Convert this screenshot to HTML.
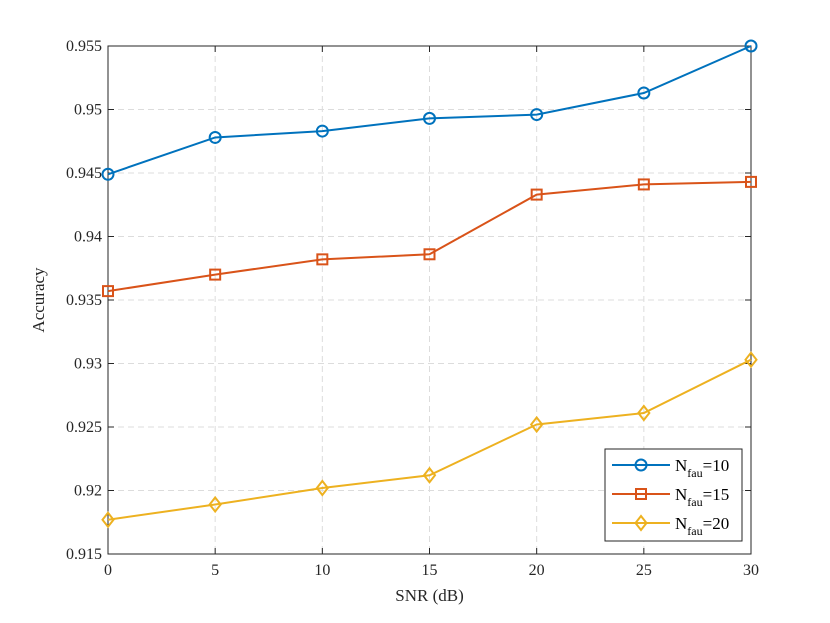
<!DOCTYPE html>
<html><head><meta charset="utf-8"><style>
html,body{margin:0;padding:0;background:#fff;}
svg{display:block;font-family:"Liberation Serif",serif;}
</style></head><body>
<svg id="chart" width="830" height="623" viewBox="0 0 830 623"></svg>
<script>
const categories=[0,5,10,15,20,25,30];
const seriesN10=[0.9449,0.9478,0.9483,0.9493,0.9496,0.9513,0.9550];
const seriesN15=[0.9357,0.9370,0.9382,0.9386,0.9433,0.9441,0.9443];
const seriesN20=[0.9177,0.9189,0.9202,0.9212,0.9252,0.9261,0.9303];
const xTicks=[0,5,10,15,20,25,30];
const yTicks=[0.915,0.92,0.925,0.93,0.935,0.94,0.945,0.95,0.955];
const yTickLabels=["0.915","0.92","0.925","0.93","0.935","0.94","0.945","0.95","0.955"];

const L=108,R=751,T=46,B=554;
const xs=v=>L+(v-0)/30*(R-L);
const ys=v=>B-(v-0.915)/0.04*(B-T);
const svg=document.getElementById('chart');
const NS='http://www.w3.org/2000/svg';
function mk(tag,attrs,parent){const e=document.createElementNS(NS,tag);for(const k in attrs)e.setAttribute(k,attrs[k]);(parent||svg).appendChild(e);return e;}

const bg=mk('rect',{x:L,y:T,width:R-L,height:B-T,fill:'#fff'});



xTicks.forEach((t,i)=>{
  const x=xs(t);
  if(i>0&&i<xTicks.length-1){const g=mk('line',{x1:x,x2:x,y1:T,y2:B,stroke:'#dcdcdc','stroke-dasharray':'6,4','stroke-width':1});
  }
  mk('line',{x1:x,x2:x,y1:B,y2:B-6,stroke:'#262626'});
  mk('line',{x1:x,x2:x,y1:T,y2:T+6,stroke:'#262626'});
  const tx=mk('text',{x:x,y:B+21,'text-anchor':'middle','font-size':16,fill:'#262626'});
  tx.textContent=t;
  
});
yTicks.forEach((t,i)=>{
  const y=ys(t);
  if(i>0&&i<yTicks.length-1){const g=mk('line',{x1:L,x2:R,y1:y,y2:y,stroke:'#dcdcdc','stroke-dasharray':'6,4','stroke-width':1});
  }
  mk('line',{x1:L,x2:L+6,y1:y,y2:y,stroke:'#262626'});
  mk('line',{x1:R,x2:R-6,y1:y,y2:y,stroke:'#262626'});
  const tx=mk('text',{x:L-6,y:y+5,'text-anchor':'end','font-size':16,fill:'#262626'});
  tx.textContent=yTickLabels[i];
  
});
const frame=mk('rect',{x:L,y:T,width:R-L,height:B-T,fill:'none',stroke:'#262626','stroke-width':1});


function marker(type,x,y,color,parent){
  let m;
  if(type==='circle')m=mk('circle',{cx:x,cy:y,r:5.5,fill:'none',stroke:color,'stroke-width':2},parent);
  else if(type==='square')m=mk('rect',{x:x-5,y:y-5,width:10,height:10,fill:'none',stroke:color,'stroke-width':2},parent);
  else m=mk('polygon',{points:`${x},${y-7} ${x+5.5},${y} ${x},${y+7} ${x-5.5},${y}`,fill:'none',stroke:color,'stroke-width':2},parent);
  return m;
}
const series=[[seriesN10,'#0072BD','circle','n10'],[seriesN15,'#D95319','square','n15'],[seriesN20,'#EDB120','diamond','n20']];
series.forEach(([vals,color,type,name])=>{
  const g=mk('g',{});
  
  const pl=mk('polyline',{points:vals.map((v,i)=>xs(categories[i])+','+ys(v)).join(' '),fill:'none',stroke:color,'stroke-width':2},g);
  
  vals.forEach((v,i)=>{const m=marker(type,xs(categories[i]),ys(v),color,g);
    });
});

const xl=mk('text',{x:(L+R)/2,y:B+47,'text-anchor':'middle','font-size':17,fill:'#262626'});
xl.textContent='SNR (dB)';
const yl=mk('text',{x:0,y:0,'text-anchor':'middle','font-size':17,fill:'#262626',transform:`translate(44,${(T+B)/2}) rotate(-90)`});
yl.textContent='Accuracy';

const lg=mk('g',{});

mk('rect',{x:605,y:449,width:137,height:92,fill:'#fff',stroke:'#262626','stroke-width':1},lg);
const labels=['10','15','20'];
series.forEach(([vals,color,type,name],i)=>{
  const y=465+i*29;
  const e=mk('g',{},lg);
  
  mk('line',{x1:612,x2:670,y1:y,y2:y,stroke:color,'stroke-width':2},e);
  marker(type,641,y,color,e);
  const t=mk('text',{x:675,y:y+6,'font-size':17,fill:'#000'},e);
  t.innerHTML='N<tspan font-size="12" dy="6">fau</tspan><tspan dy="-6">='+labels[i]+'</tspan>';
});
</script>
</body></html>
